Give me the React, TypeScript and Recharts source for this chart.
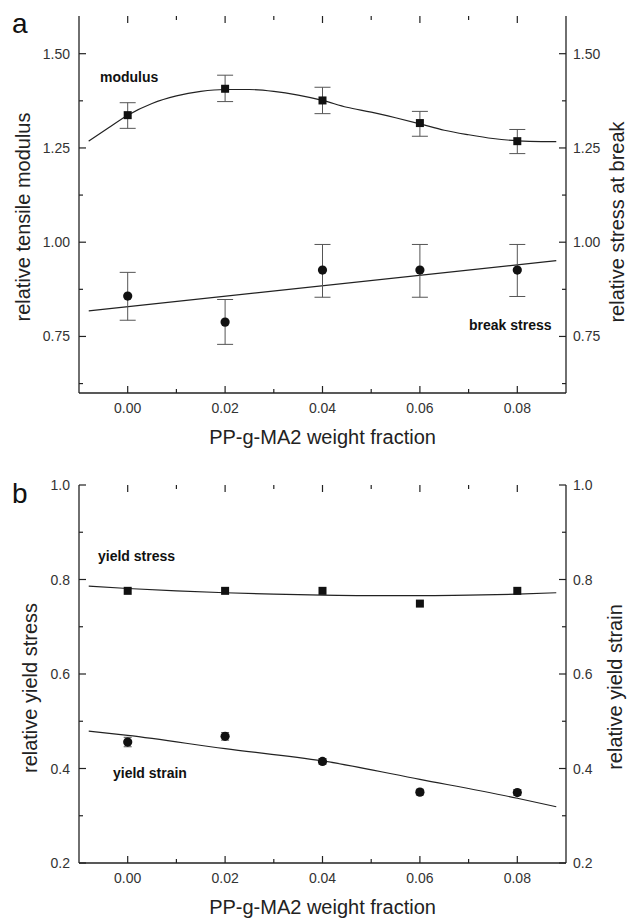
import React from "react";
import { ComposedChart, XAxis, YAxis, Line, ErrorBar, ReferenceLine } from "recharts";

const fractions = [0, 0.02, 0.04, 0.06, 0.08];

// panel a
const modulus = [1.337, 1.407, 1.376, 1.316, 1.268];
const modulusHigh = [1.37, 1.443, 1.411, 1.347, 1.299];
const modulusLow = [1.302, 1.373, 1.341, 1.281, 1.235];
const breakStress = [0.857, 0.788, 0.926, 0.926, 0.926];
const breakStressHigh = [0.92, 0.848, 0.994, 0.994, 0.994];
const breakStressLow = [0.793, 0.729, 0.854, 0.854, 0.856];

const modulusFitX = [-0.008, -0.004, 0, 0.005, 0.01, 0.015, 0.02, 0.025, 0.03, 0.035, 0.04, 0.045, 0.05, 0.055, 0.06, 0.065, 0.07, 0.075, 0.08, 0.085, 0.088];
const modulusFitY = [1.268, 1.303, 1.337, 1.368, 1.388, 1.4, 1.405, 1.405, 1.4, 1.39, 1.376, 1.358, 1.345, 1.33, 1.314, 1.297, 1.285, 1.275, 1.269, 1.267, 1.267];
const breakFitX = [-0.008, 0.088];
const breakFitY = [0.818, 0.951];

// panel b
const yieldStress = [0.776, 0.776, 0.776, 0.749, 0.776];
const yieldStrain = [0.456, 0.468, 0.415, 0.35, 0.349];
const yieldStrainErr = [0.01, 0.008, 0.006, 0.006, 0.006];

const yieldStressFitX = [-0.008, 0, 0.01, 0.02, 0.03, 0.04, 0.05, 0.06, 0.07, 0.08, 0.088];
const yieldStressFitY = [0.786, 0.781, 0.776, 0.772, 0.769, 0.767, 0.766, 0.766, 0.767, 0.769, 0.772];
const yieldStrainFitX = [-0.008, 0, 0.02, 0.04, 0.06, 0.08, 0.088];
const yieldStrainFitY = [0.479, 0.47, 0.442, 0.416, 0.377, 0.337, 0.319];

// ticks
const xMajor = [0, 0.02, 0.04, 0.06, 0.08];
const xMinor = [0.01, 0.03, 0.05, 0.07];
const topYMajor = [0.75, 1.0, 1.25, 1.5];
const topYMinor = [0.625, 0.875, 1.125, 1.375];
const botYMajor = [0.2, 0.4, 0.6, 0.8, 1.0];
const botYMinor = [0.3, 0.5, 0.7, 0.9];

const FONT = "'Liberation Sans', Arial, Helvetica, sans-serif";
const INK = "#222";
const X_DOMAIN: [number, number] = [-0.01, 0.09];
const PLOT_W = 629 - 79 - 63;

const toPoints = (xs: number[], ys: number[]) => xs.map((x, i) => ({ x, y: ys[i] }));

const modulusData = fractions.map((x, i) => ({
  x,
  y: modulus[i],
  err: [modulus[i] - modulusLow[i], modulusHigh[i] - modulus[i]],
}));
const breakData = fractions.map((x, i) => ({
  x,
  y: breakStress[i],
  err: [breakStress[i] - breakStressLow[i], breakStressHigh[i] - breakStress[i]],
}));
const yieldStressData = fractions.map((x, i) => ({ x, y: yieldStress[i] }));
const yieldStrainData = fractions.map((x, i) => ({ x, y: yieldStrain[i], err: yieldStrainErr[i] }));

function TickText(props: any) {
  const { x, y, payload, side, digits } = props;
  const label = Number(payload.value).toFixed(digits);
  const style = { fontFamily: FONT, fontSize: 14, fill: "#333" };
  if (side === "left")
    return <text x={x - 9} y={y + 5} textAnchor="end" style={style}>{label}</text>;
  if (side === "right")
    return <text x={x + 7} y={y + 5} textAnchor="start" style={style}>{label}</text>;
  return <text x={x} y={y + 20} textAnchor="middle" style={style}>{label}</text>;
}

function AxisTitle(props: any) {
  const { tx, ty, text, rotate } = props;
  return (
    <text
      transform={`translate(${tx},${ty})${rotate ? " rotate(-90)" : ""}`}
      textAnchor="middle"
      dominantBaseline="central"
      style={{ fontFamily: FONT, fontSize: 20, fill: INK }}
    >
      {text}
    </text>
  );
}

function Marker(props: any) {
  const { cx, cy, kind } = props;
  if (cx == null || cy == null) return null;
  if (kind === "square")
    return <rect x={cx - 4} y={cy - 4} width={8} height={8} fill="#111" />;
  return <circle cx={cx} cy={cy} r={4.6} fill="#111" />;
}

// inward tick marks on all four sides of the frame, as short reference segments
function frameTicks(yDomain: [number, number], yMajor: number[], yMinor: number[], plotH: number) {
  const [x0, x1] = X_DOMAIN;
  const [y0, y1] = yDomain;
  const ux = (x1 - x0) / PLOT_W;
  const uy = (y1 - y0) / plotH;
  const seg = { xAxisId: "bottom", yAxisId: "left", stroke: INK, strokeWidth: 1.2, ifOverflow: "visible" } as const;
  const out: React.ReactNode[] = [];
  const xs = [...xMajor.map((v) => [v, 7]), ...xMinor.map((v) => [v, 4])];
  const ys = [...yMajor.map((v) => [v, 7]), ...yMinor.map((v) => [v, 4])];
  xs.forEach(([v, len], i) => {
    out.push(<ReferenceLine key={`xb${i}`} {...seg} segment={[{ x: v, y: y0 }, { x: v, y: y0 + len * uy }]} />);
    out.push(<ReferenceLine key={`xt${i}`} {...seg} segment={[{ x: v, y: y1 }, { x: v, y: y1 - len * uy }]} />);
  });
  ys.forEach(([v, len], i) => {
    out.push(<ReferenceLine key={`yl${i}`} {...seg} segment={[{ x: x0, y: v }, { x: x0 + len * ux, y: v }]} />);
    out.push(<ReferenceLine key={`yr${i}`} {...seg} segment={[{ x: x1, y: v }, { x: x1 - len * ux, y: v }]} />);
  });
  return out;
}

type PanelProps = {
  height: number;
  marginTop: number;
  bottomAxis: number;
  yDomain: [number, number];
  yMajor: number[];
  yMinor: number[];
  yDigits: number;
  leftTitle: string;
  rightTitle: string;
  leftTitlePos: [number, number];
  rightTitlePos: [number, number];
  xTitleY: number;
  children: React.ReactNode;
};

const axisLine = { stroke: INK, strokeWidth: 1.3 };

function Panel(p: PanelProps) {
  const plotH = p.height - p.marginTop - p.bottomAxis;
  return (
    <ComposedChart
      width={629}
      height={p.height}
      margin={{ top: p.marginTop, right: 0, bottom: 0, left: 0 }}
    >
      <XAxis
        xAxisId="bottom"
        dataKey="x"
        type="number"
        domain={X_DOMAIN}
        allowDataOverflow
        ticks={xMajor}
        interval={0}
        height={p.bottomAxis}
        tickSize={0}
        tickMargin={0}
        tickLine={false}
        axisLine={axisLine}
        tick={<TickText side="bottom" digits={2} />}
        label={<AxisTitle tx={322.5} ty={p.xTitleY} text="PP-g-MA2 weight fraction" />}
      />
      <XAxis
        xAxisId="top"
        orientation="top"
        dataKey="x"
        type="number"
        domain={X_DOMAIN}
        allowDataOverflow
        ticks={xMajor}
        height={0}
        tickSize={0}
        tickLine={false}
        axisLine={axisLine}
        tick={false}
      />
      <YAxis
        yAxisId="left"
        type="number"
        domain={p.yDomain}
        allowDataOverflow
        ticks={p.yMajor}
        interval={0}
        width={79}
        tickSize={0}
        tickMargin={0}
        tickLine={false}
        axisLine={axisLine}
        tick={<TickText side="left" digits={p.yDigits} />}
        label={<AxisTitle tx={p.leftTitlePos[0]} ty={p.leftTitlePos[1]} text={p.leftTitle} rotate />}
      />
      <YAxis
        yAxisId="right"
        orientation="right"
        type="number"
        domain={p.yDomain}
        allowDataOverflow
        ticks={p.yMajor}
        interval={0}
        width={63}
        tickSize={0}
        tickMargin={0}
        tickLine={false}
        axisLine={axisLine}
        tick={<TickText side="right" digits={p.yDigits} />}
        label={<AxisTitle tx={p.rightTitlePos[0]} ty={p.rightTitlePos[1]} text={p.rightTitle} rotate />}
      />
      {frameTicks(p.yDomain, p.yMajor, p.yMinor, plotH)}
      {p.children}
    </ComposedChart>
  );
}

const fitProps = {
  xAxisId: "bottom",
  yAxisId: "left",
  dataKey: "y",
  dot: false,
  activeDot: false,
  stroke: INK,
  strokeWidth: 1.2,
  isAnimationActive: false,
} as const;

const markerProps = {
  xAxisId: "bottom",
  yAxisId: "left",
  dataKey: "y",
  activeDot: false,
  stroke: "none",
  type: "linear",
  isAnimationActive: false,
} as const;

export default function App() {
  const bold = { fontFamily: FONT, fontSize: 14, fontWeight: 700, fill: "#111" };
  return (
    <div style={{ position: "absolute", left: 0, top: 0, width: 629, height: 918, background: "#fff" }}>
      <div style={{ position: "absolute", left: 0, top: 0 }}>
        <Panel
          height={460}
          marginTop={16}
          bottomAxis={67}
          yDomain={[0.6, 1.6]}
          yMajor={topYMajor}
          yMinor={topYMinor}
          yDigits={2}
          leftTitle="relative tensile modulus"
          rightTitle="relative stress at break"
          leftTitlePos={[23, 217]}
          rightTitlePos={[617, 222]}
          xTitleY={437}
        >
          <Line {...fitProps} data={toPoints(modulusFitX, modulusFitY)} type="monotone" />
          <Line {...fitProps} data={toPoints(breakFitX, breakFitY)} type="linear" />
          <Line {...markerProps} data={modulusData} dot={<Marker kind="square" />}>
            <ErrorBar dataKey="err" direction="y" width={8} stroke="#555" strokeWidth={1} isAnimationActive={false} />
          </Line>
          <Line {...markerProps} data={breakData} dot={<Marker kind="circle" />}>
            <ErrorBar dataKey="err" direction="y" width={8} stroke="#555" strokeWidth={1} isAnimationActive={false} />
          </Line>
        </Panel>
      </div>
      <div style={{ position: "absolute", left: 0, top: 460 }}>
        <Panel
          height={458}
          marginTop={25}
          bottomAxis={55}
          yDomain={[0.2, 1.0]}
          yMajor={botYMajor}
          yMinor={botYMinor}
          yDigits={1}
          leftTitle="relative yield stress"
          rightTitle="relative yield strain"
          leftTitlePos={[30, 228]}
          rightTitlePos={[615, 227]}
          xTitleY={447}
        >
          <Line {...fitProps} data={toPoints(yieldStressFitX, yieldStressFitY)} type="monotone" />
          <Line {...fitProps} data={toPoints(yieldStrainFitX, yieldStrainFitY)} type="monotone" />
          <Line {...markerProps} data={yieldStressData} dot={<Marker kind="square" />} />
          <Line {...markerProps} data={yieldStrainData} dot={<Marker kind="circle" />}>
            <ErrorBar dataKey="err" direction="y" width={4} stroke="#555" strokeWidth={1} isAnimationActive={false} />
          </Line>
        </Panel>
      </div>
      <svg width={629} height={918} style={{ position: "absolute", left: 0, top: 0, pointerEvents: "none" }}>
        <text x={12} y={33} style={{ fontFamily: FONT, fontSize: 28, fill: "#111" }}>a</text>
        <text x={12} y={503} style={{ fontFamily: FONT, fontSize: 28, fill: "#111" }}>b</text>
        <text x={100} y={82} style={bold}>modulus</text>
        <text x={469} y={330} style={bold}>break stress</text>
        <text x={98} y={561} style={bold}>yield stress</text>
        <text x={113} y={778} style={bold}>yield strain</text>
      </svg>
    </div>
  );
}
